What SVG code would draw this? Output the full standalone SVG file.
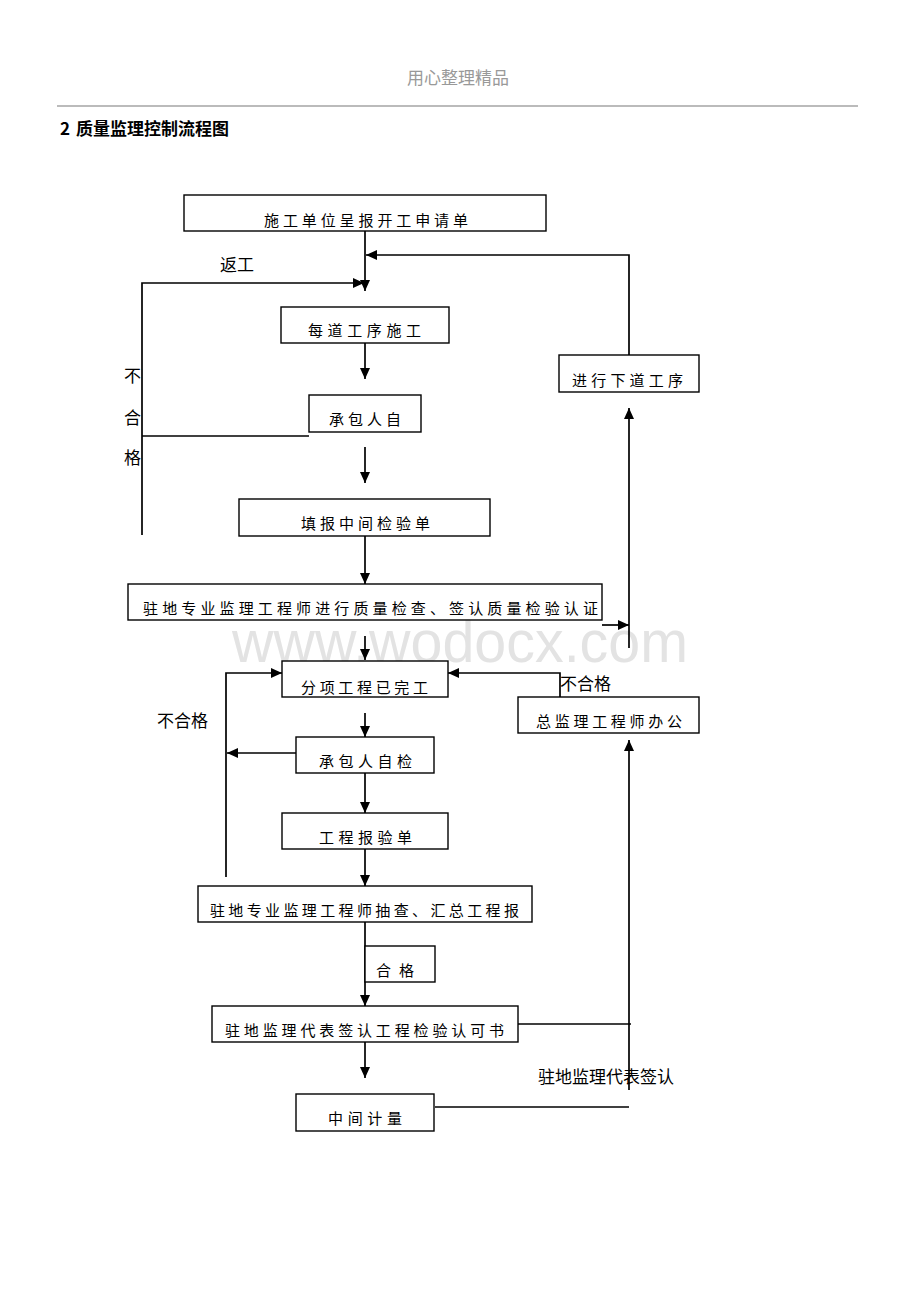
<svg xmlns="http://www.w3.org/2000/svg" width="920" height="1302" viewBox="0 0 920 1302">
<style>
.box{fill:#fff;stroke:#000;stroke-width:1.4}
.bt{font-family:"Noto Sans CJK SC","Noto Sans",sans-serif;font-size:15px;fill:#000}
.lb{font-family:"Noto Sans CJK SC","Noto Sans",sans-serif;font-size:17px;fill:#000}
.cn{fill:none;stroke:#000;stroke-width:1.7}
</style>
<defs>
<marker id="ah" markerUnits="userSpaceOnUse" markerWidth="12" markerHeight="10" refX="11" refY="5" orient="auto">
<path d="M0,0 L11,5 L0,10 Z" fill="#000"/>
</marker>
</defs>
<rect width="920" height="1302" fill="#fff"/>
<g id="header">
<text x="458" y="84" text-anchor="middle" font-family="Noto Sans CJK SC,sans-serif" font-size="17" fill="#999">用心整理精品</text>
<line x1="57" y1="106" x2="858" y2="106" stroke="#bbb" stroke-width="2"/>
<text x="60" y="135" font-family="Noto Sans CJK SC,sans-serif" font-size="17" font-weight="bold" fill="#000">2<tspan x="76">质量监理控制流程图</tspan></text>
</g>
<g id="watermark">
<text x="232" y="662" font-family="Liberation Sans,sans-serif" font-size="60" fill="#e3e3e3" textLength="456" lengthAdjust="spacingAndGlyphs">www.wodocx.com</text>
</g>
<g id="connectors">
<line class="cn" x1="365" y1="231" x2="365" y2="291" marker-end="url(#ah)"/>
<polyline class="cn" points="629,355 629,255 366,255" marker-end="url(#ah)"/>
<polyline class="cn" points="142,535 142,283 364,283" marker-end="url(#ah)"/>
<line class="cn" x1="365" y1="343" x2="365" y2="379" marker-end="url(#ah)"/>
<line class="cn" x1="309" y1="436" x2="142" y2="436"/>
<line class="cn" x1="365" y1="447" x2="365" y2="483" marker-end="url(#ah)"/>
<line class="cn" x1="365" y1="536" x2="365" y2="584" marker-end="url(#ah)"/>
<line class="cn" x1="602" y1="625" x2="629" y2="625" marker-end="url(#ah)"/>
<line class="cn" x1="629" y1="648" x2="629" y2="408" marker-end="url(#ah)"/>
<line class="cn" x1="365" y1="636" x2="365" y2="660" marker-end="url(#ah)"/>
<polyline class="cn" points="226,877 226,673 282,673" marker-end="url(#ah)"/>
<polyline class="cn" points="560,697 560,673 448,673" marker-end="url(#ah)"/>
<line class="cn" x1="365" y1="713" x2="365" y2="737" marker-end="url(#ah)"/>
<line class="cn" x1="296" y1="753" x2="227" y2="753" marker-end="url(#ah)"/>
<line class="cn" x1="365" y1="760" x2="365" y2="813" marker-end="url(#ah)"/>
<line class="cn" x1="365" y1="849" x2="365" y2="886" marker-end="url(#ah)"/>
<line class="cn" x1="365" y1="922" x2="365" y2="1006" marker-end="url(#ah)"/>
<line class="cn" x1="518" y1="1024" x2="631" y2="1024"/>
<line class="cn" x1="629" y1="1090" x2="629" y2="740" marker-end="url(#ah)"/>
<line class="cn" x1="435" y1="1107" x2="629" y2="1107"/>
<line class="cn" x1="365" y1="1042" x2="365" y2="1078" marker-end="url(#ah)"/>
</g>
<g id="n1"><rect class="box" x="184" y="195" width="362" height="36"/><text class="bt" x="264" y="226" textLength="204" lengthAdjust="spacing">施工单位呈报开工申请单</text></g>
<g id="n2"><rect class="box" x="281" y="307" width="168" height="36"/><text class="bt" x="308" y="336" textLength="113" lengthAdjust="spacing">每道工序施工</text></g>
<g id="n3"><rect class="box" x="309" y="395" width="112" height="37"/><text class="bt" x="329" y="425" textLength="72" lengthAdjust="spacing">承包人自</text></g>
<g id="n4"><rect class="box" x="239" y="499" width="251" height="37"/><text class="bt" x="301" y="529" textLength="129" lengthAdjust="spacing">填报中间检验单</text></g>
<g id="n5"><rect class="box" x="128" y="584" width="474" height="36"/><text class="bt" x="143" y="614" textLength="455" lengthAdjust="spacing">驻地专业监理工程师进行质量检查、签认质量检验认证</text></g>
<g id="n6"><rect class="box" x="559" y="355" width="140" height="37"/><text class="bt" x="572" y="386" textLength="111" lengthAdjust="spacing">进行下道工序</text></g>
<g id="n7"><rect class="box" x="282" y="661" width="166" height="36"/><text class="bt" x="301" y="693" textLength="127" lengthAdjust="spacing">分项工程已完工</text></g>
<g id="n8"><rect class="box" x="518" y="697" width="181" height="36"/><text class="bt" x="536" y="727" textLength="146" lengthAdjust="spacing">总监理工程师办公</text></g>
<g id="n9"><rect class="box" x="296" y="737" width="138" height="36"/><text class="bt" x="319" y="767" textLength="93" lengthAdjust="spacing">承包人自检</text></g>
<g id="n10"><rect class="box" x="282" y="813" width="166" height="36"/><text class="bt" x="319" y="843" textLength="93" lengthAdjust="spacing">工程报验单</text></g>
<g id="n11"><rect class="box" x="198" y="886" width="334" height="36"/><text class="bt" x="210" y="916" textLength="309" lengthAdjust="spacing">驻地专业监理工程师抽查、汇总工程报</text></g>
<g id="n12"><rect class="box" x="365" y="946" width="70" height="36"/><text class="bt" x="376" y="976" textLength="38" lengthAdjust="spacing">合格</text></g>
<g id="n13"><rect class="box" x="212" y="1006" width="306" height="36"/><text class="bt" x="225" y="1036" textLength="279" lengthAdjust="spacing">驻地监理代表签认工程检验认可书</text></g>
<g id="n14"><rect class="box" x="296" y="1094" width="138" height="37"/><text class="bt" x="328" y="1124" textLength="74" lengthAdjust="spacing">中间计量</text></g>
<g id="labels">
<text class="lb" x="220" y="271" font-size="18">返工</text>
<text class="lb" x="124" y="382">不</text>
<text class="lb" x="124" y="424">合</text>
<text class="lb" x="124" y="464">格</text>
<text class="lb" x="560" y="690">不合格</text>
<text class="lb" x="157" y="727" font-size="17.5">不合格</text>
<text class="lb" x="538" y="1083" font-size="18">驻地监理代表签认</text>
</g>
</svg>
